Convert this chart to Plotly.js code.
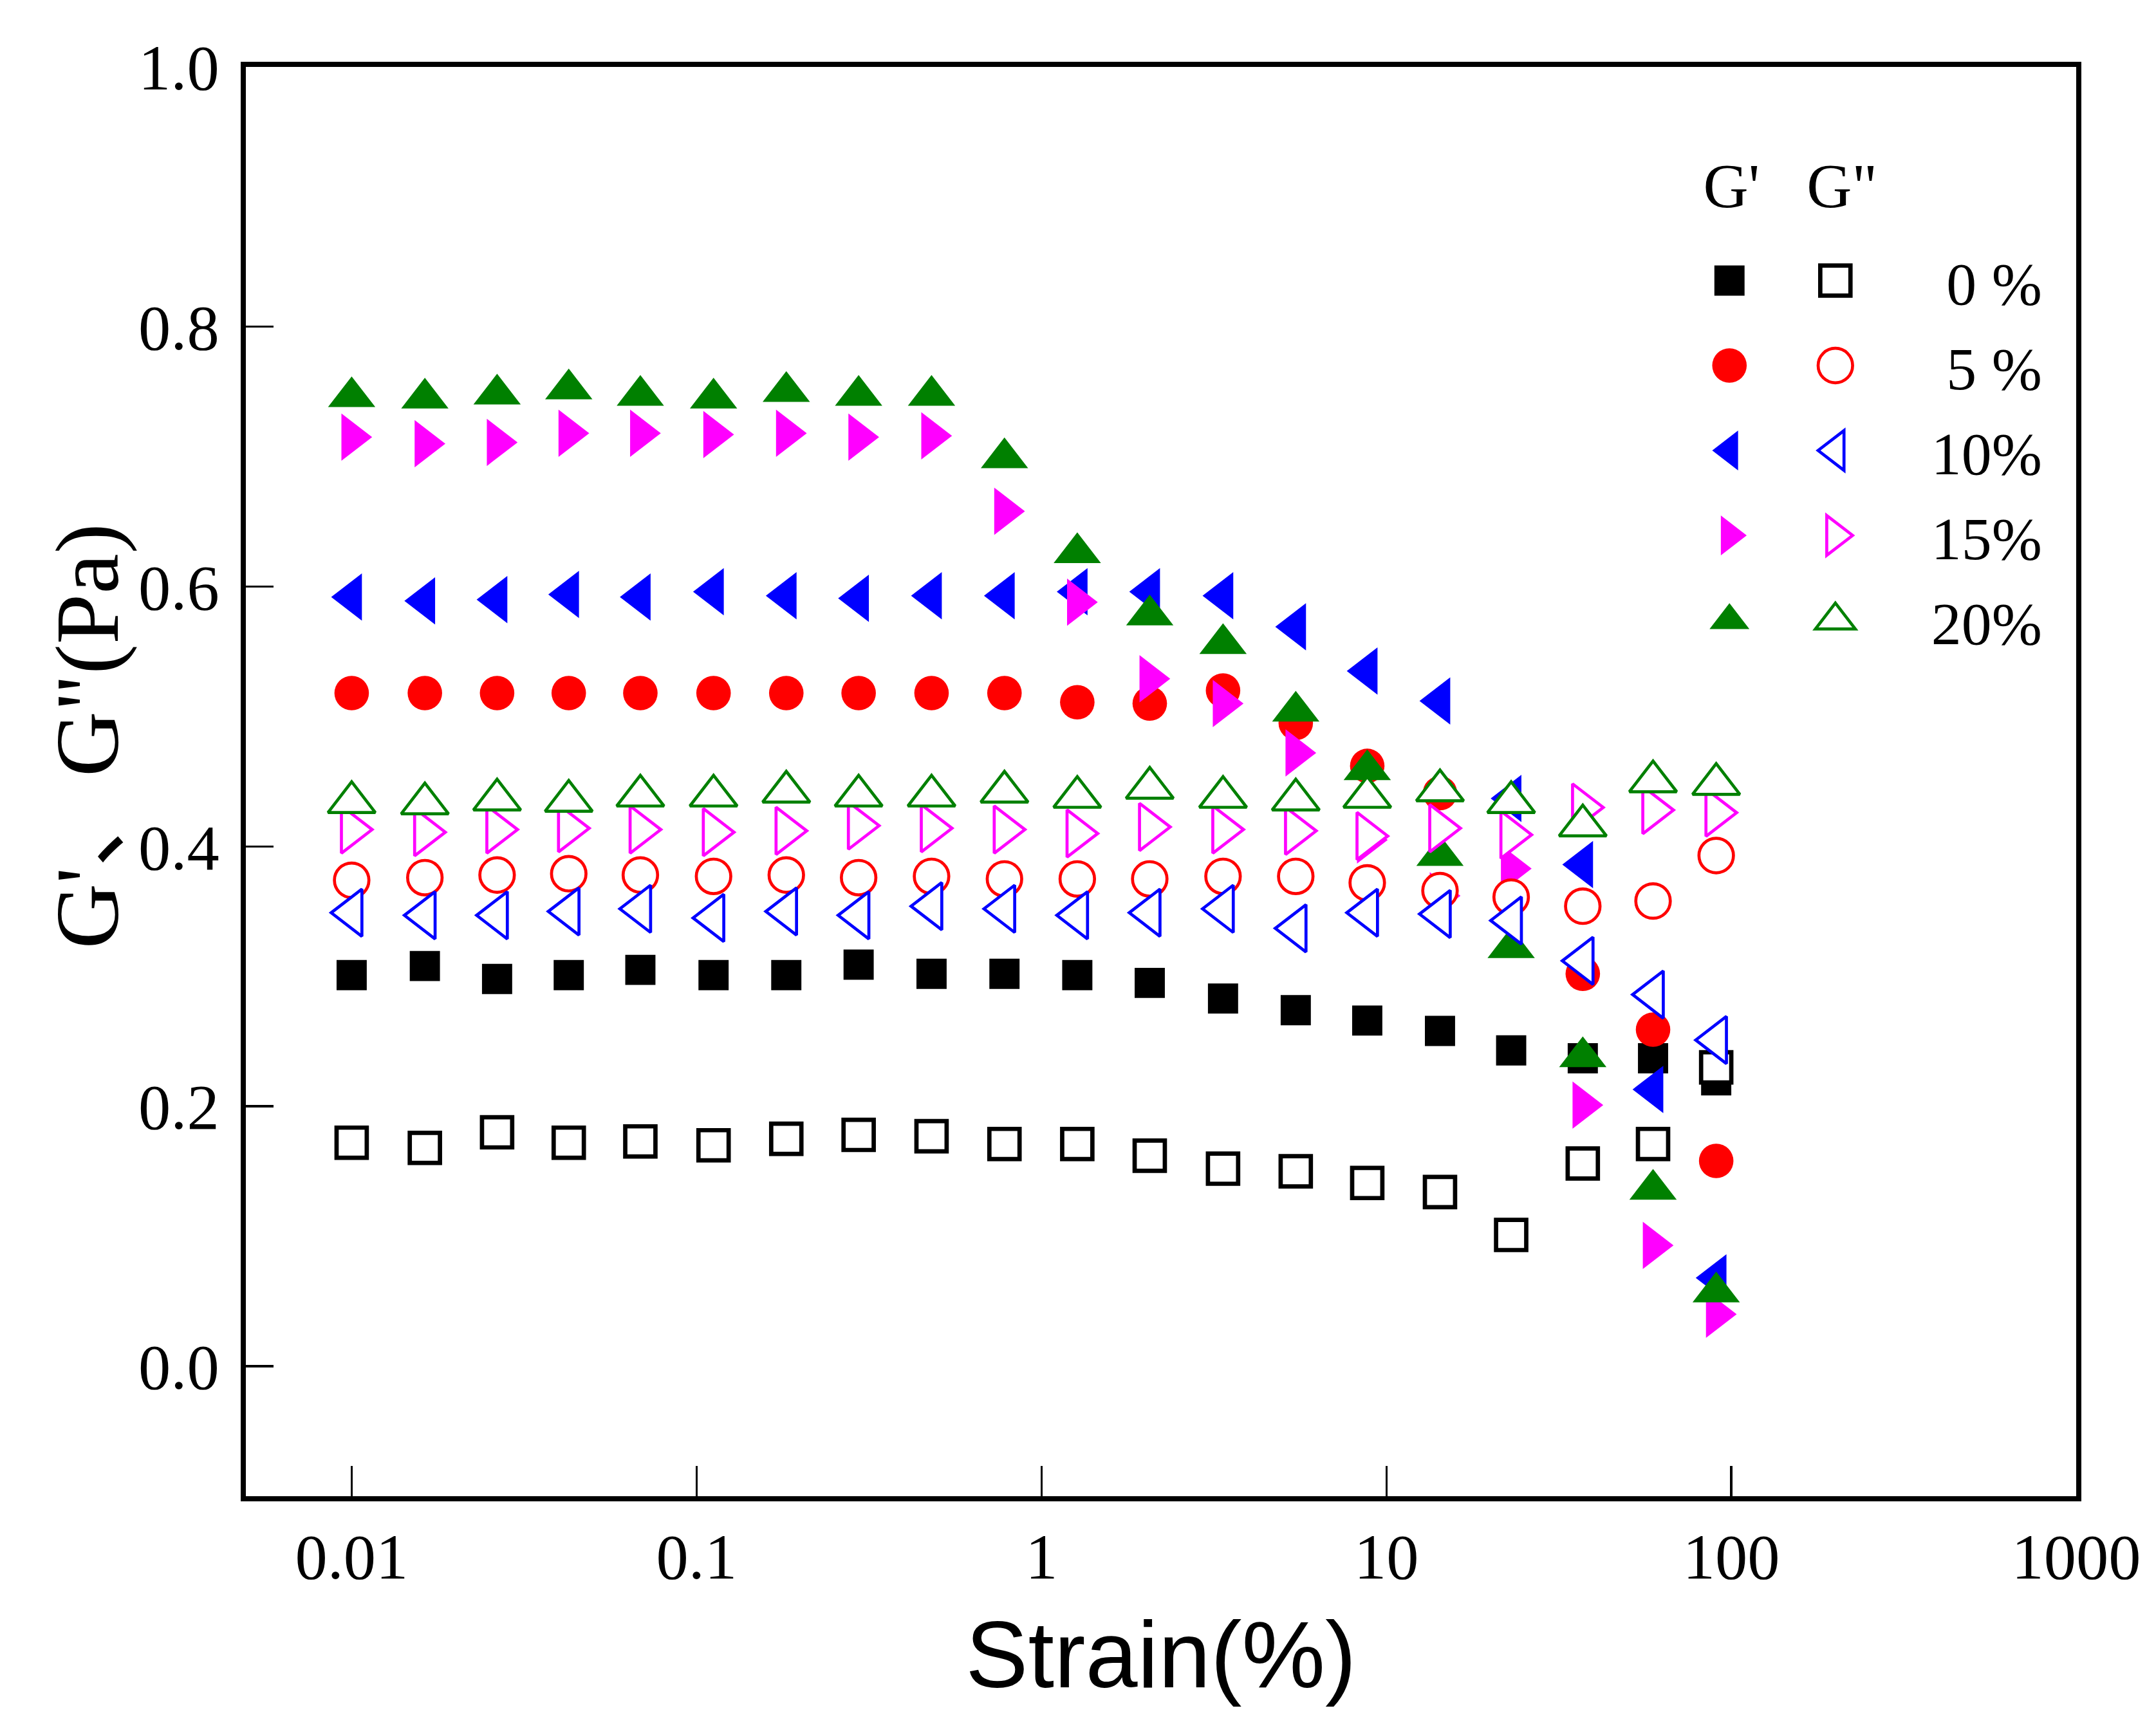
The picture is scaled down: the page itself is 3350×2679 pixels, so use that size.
<!DOCTYPE html>
<html>
<head>
<meta charset="utf-8">
<script src="https://cdn.plot.ly/plotly-3.0.1.min.js"></script>
<style>
body{margin:0;background:#fff;overflow:hidden}
#graph{width:1000px;height:800px;zoom:3.35}
</style>
</head>
<body>
<div id="graph"></div>
<script>
// strain sweep (%)
var strain = [0.01, 0.0163, 0.0264, 0.0426, 0.0687, 0.112, 0.182, 0.295, 0.48, 0.781,
              1.27, 2.06, 3.36, 5.46, 8.8, 14.3, 23.0, 37.1, 59.3, 90.4]

// G' (storage modulus, filled symbols)
var gp0  = [0.301, 0.308, 0.298, 0.301, 0.305, 0.301, 0.301, 0.309, 0.302, 0.302,
            0.301, 0.295, 0.283, 0.274, 0.266, 0.258, 0.243, 0.237, 0.237, 0.220]
var gp5  = [0.518, 0.518, 0.518, 0.518, 0.518, 0.518, 0.518, 0.518, 0.518, 0.518,
            0.511, 0.510, 0.520, 0.495, 0.462, 0.441, 0.362, 0.302, 0.259, 0.158]
var gp10 = [0.592, 0.589, 0.590, 0.594, 0.592, 0.596, 0.593, 0.591, 0.593, 0.593,
            0.596, 0.596, 0.593, 0.569, 0.535, 0.512, 0.437, 0.386, 0.213, 0.068]
var gp15 = [0.715, 0.710, 0.711, 0.718, 0.718, 0.717, 0.718, 0.715, 0.716, 0.658,
            0.588, 0.529, 0.510, 0.472, 0.405, 0.362, 0.383, 0.201, 0.093, 0.040]
var gp20 = [0.746, 0.745, 0.748, 0.752, 0.747, 0.745, 0.750, 0.747, 0.747, 0.699,
            0.626, 0.578, 0.556, 0.504, 0.459, 0.393, 0.322, 0.238, 0.136, 0.057]

// G'' (loss modulus, open symbols)
var gd0  = [0.172, 0.168, 0.180, 0.172, 0.173, 0.170, 0.175, 0.178, 0.177, 0.171,
            0.171, 0.162, 0.152, 0.150, 0.141, 0.134, 0.101, 0.156, 0.171, 0.230]
var gd5  = [0.374, 0.376, 0.378, 0.379, 0.378, 0.377, 0.378, 0.376, 0.377, 0.375,
            0.375, 0.375, 0.377, 0.377, 0.372, 0.366, 0.361, 0.354, 0.358, 0.393]
var gd10 = [0.349, 0.347, 0.347, 0.350, 0.352, 0.345, 0.350, 0.347, 0.354, 0.352,
            0.347, 0.349, 0.352, 0.337, 0.349, 0.348, 0.343, 0.312, 0.286, 0.251]
var gd15 = [0.413, 0.411, 0.413, 0.414, 0.413, 0.411, 0.412, 0.416, 0.414, 0.413,
            0.410, 0.415, 0.413, 0.412, 0.408, 0.414, 0.409, 0.430, 0.428, 0.426]
var gd20 = [0.434, 0.433, 0.436, 0.435, 0.439, 0.439, 0.442, 0.439, 0.439, 0.442,
            0.438, 0.445, 0.438, 0.436, 0.438, 0.443, 0.434, 0.416, 0.450, 0.448]

var labels = ["\u00a00 %", "\u00a05 %", "10%", "15%", "20%"]
var xTicks = [0.01, 0.1, 1, 10, 100, 1000]
var xTickText = ["0.01", "0.1", "1", "10", "100", "1000"]
var yTicks = [0, 0.2, 0.4, 0.6, 0.8, 1.0]
var yTickText = ["0.0", "0.2", "0.4", "0.6", "0.8", "1.0"]

var colors = ["#000000", "#ff0000", "#0000ff", "#ff00ff", "#008000"]
var symbols = ["square", "circle", "triangle-left", "triangle-right", "triangle-up"]
var sizes = [14, 16, 19, 19, 19]
var gPrime = [gp0, gp5, gp10, gp15, gp20]
var gDouble = [gd0, gd5, gd10, gd15, gd20]

var serif = "Liberation Serif, Times New Roman, serif"
var sans = "Liberation Sans, Arial, sans-serif"

// all G' first, then the hollow (white faced) G'' symbols on top
var traces = []
for (var i = 0; i < 5; i++){
	traces.push({x:strain, y:gPrime[i], type:"scatter", mode:"markers", name:"\u00a0", legend:"legend",
		marker:{symbol:symbols[i], size:sizes[i], color:colors[i], line:{width:0}}, cliponaxis:false})
}
for (var i = 0; i < 5; i++){
	traces.push({x:strain, y:gDouble[i], type:"scatter", mode:"markers", name:labels[i], legend:"legend2",
		marker:{symbol:symbols[i], size:sizes[i], color:"white",
		line:{width:(i == 0 ? 2 : 1.4), color:colors[i]}}, cliponaxis:false})
}

var layout = {
	width:1000, height:800,
	margin:{l:113.5, r:36.9, t:30.6, b:106},
	paper_bgcolor:"white", plot_bgcolor:"white",
	font:{family:serif, color:"black", size:30},
	showlegend:true,
	xaxis:{
		type:"log", range:[-2.307, 3],
		tickvals:xTicks, ticktext:xTickText,
		ticks:"inside", ticklen:14, tickwidth:1, tickcolor:"black",
		showline:true, linewidth:2.3, linecolor:"black", mirror:true,
		showgrid:false, zeroline:false,
		tickfont:{family:serif, size:30, color:"black"},
		title:{text:"Strain(%)", font:{family:sans, size:43.5, color:"black"}, standoff:15}
	},
	yaxis:{
		range:[-0.1, 1.0],
		tickvals:yTicks, ticktext:yTickText,
		ticks:"inside", ticklen:12.8, tickwidth:1, tickcolor:"black",
		ticklabelstandoff:4,
		showline:true, linewidth:2.3, linecolor:"black", mirror:true,
		showgrid:false, zeroline:false,
		tickfont:{family:serif, size:30, color:"black"}
	},
	legend:{x:0.787, y:0.8877, xanchor:"left", yanchor:"top", bgcolor:"rgba(0,0,0,0)",
		borderwidth:0, itemwidth:30, font:{family:serif, size:28, color:"black"}},
	legend2:{x:0.816, y:0.8877, xanchor:"left", yanchor:"top", bgcolor:"rgba(0,0,0,0)",
		borderwidth:0, itemwidth:79, font:{family:serif, size:28, color:"black"}},
	annotations:[
		// y axis title, sits a little above the middle of the axis like the original
		{xref:"paper", yref:"paper", x:-0.092, y:0.532, xanchor:"center", yanchor:"middle", textangle:-90,
		 text:"G'<span style=\"font-family:Noto Sans CJK SC\">\u3001</span>G\"(Pa)",
		 showarrow:false, font:{family:serif, size:42, color:"black"}},
		{xref:"paper", yref:"paper", x:0.8116, y:0.9164, xanchor:"center", yanchor:"middle",
		 text:"G'", showarrow:false, font:{family:serif, size:29, color:"black"}},
		{xref:"paper", yref:"paper", x:0.8723, y:0.9164, xanchor:"center", yanchor:"middle",
		 text:"G\"", showarrow:false, font:{family:serif, size:29, color:"black"}}
	]
}

Plotly.newPlot("graph", traces, layout, {displayModeBar:false, staticPlot:true})
</script>
</body>
</html>
